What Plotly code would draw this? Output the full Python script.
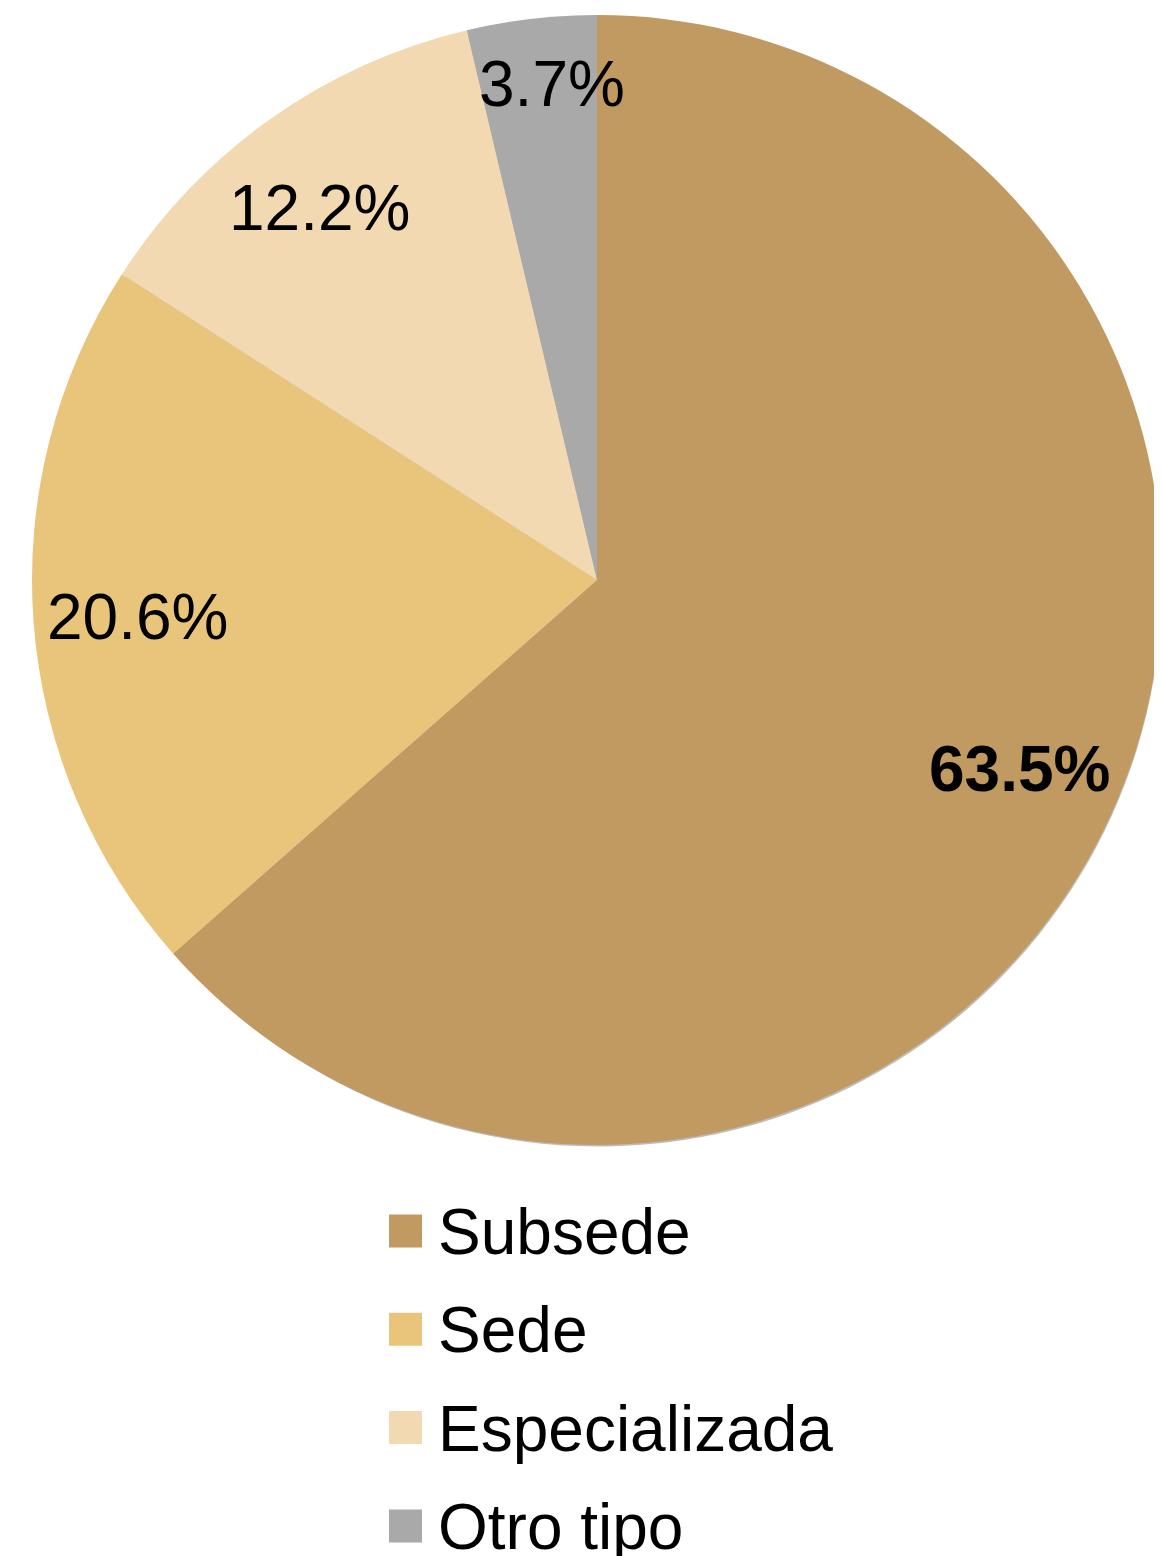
import math
import plotly.graph_objects as go

# ---- data ----
labels = ["Subsede", "Sede", "Especializada", "Otro tipo"]
values = [63.5, 20.6, 12.2, 3.7]
colors = ["#C19A61", "#E9C47B", "#F2D9B2", "#A9A9A9"]
label_bold = [True, False, False, False]

# ---- layout constants (px, in reference-image coordinates) ----
OFF = 8                     # page body margin offset
W, H = 1162 - OFF, 1556 - OFF
CX, CY, R = 597, 580, 565
label_radius = [0.82, 0.82, 0.82, 0.88]
label_nudge = [(0, -2), (2, 2), (-10, 6), (13, -2)]
FONT = "Liberation Sans, Arial, sans-serif"
FS = 64

def px_to_paper(x, y):
    return (x - OFF) / W, 1 - (y - OFF) / H

def pie_domain(cx, cy, r):
    x0, y1 = px_to_paper(cx - r, cy - r)
    x1, y0 = px_to_paper(cx + r, cy + r)
    return dict(x=[max(0, x0), min(1, x1)], y=[max(0, y0), min(1, y1)])

fig = go.Figure()
# soft shadow behind the pie
fig.add_trace(go.Pie(
    values=values,
    marker=dict(colors=["#B0B0B0"] * len(values), line=dict(width=0)),
    sort=False, direction="clockwise", rotation=0,
    textinfo="none", hoverinfo="skip", showlegend=False, opacity=0.85,
    domain=pie_domain(CX + 3, CY + 3, R),
))
fig.add_trace(go.Pie(
    labels=labels,
    values=values,
    marker=dict(colors=colors, line=dict(width=0)),
    sort=False,
    direction="clockwise",
    rotation=0,
    textinfo="none",
    hoverinfo="label+percent",
    showlegend=False,
    domain=pie_domain(CX, CY, R),
))

annotations = []
total = sum(values)
cum = 0.0
for i, v in enumerate(values):
    mid = (cum + v / 2) / total * 2 * math.pi
    cum += v
    px = CX + label_radius[i] * R * math.sin(mid) + label_nudge[i][0]
    py = CY - label_radius[i] * R * math.cos(mid) + label_nudge[i][1]
    ax, ay = px_to_paper(px, py)
    txt = f"{v / total * 100:.1f}%"
    if label_bold[i]:
        txt = f"<b>{txt}</b>"
    annotations.append(dict(
        x=ax, y=ay, xref="paper", yref="paper", text=txt, showarrow=False,
        xanchor="center", yanchor="middle",
        font=dict(family=FONT, size=FS, color="#000000"),
    ))

# manual legend (large square swatches)
shapes = []
LEG_X0, SQ = 389, 33
LEG_Y0, LEG_DY = 1231, 98.3
for i, (lab, col) in enumerate(zip(labels, colors)):
    yc = LEG_Y0 + i * LEG_DY
    x0, y0 = px_to_paper(LEG_X0, yc + SQ / 2)
    x1, y1 = px_to_paper(LEG_X0 + SQ, yc - SQ / 2)
    shapes.append(dict(type="rect", xref="paper", yref="paper",
                       x0=x0, y0=y0, x1=x1, y1=y1,
                       fillcolor=col, line=dict(width=0)))
    tx, ty = px_to_paper(436, yc + 1)
    annotations.append(dict(
        x=tx, y=ty, xref="paper", yref="paper", text=lab, showarrow=False,
        xanchor="left", yanchor="middle",
        font=dict(family=FONT, size=FS, color="#000000"),
    ))

fig.update_layout(
    width=W, height=H,
    margin=dict(l=0, r=0, t=0, b=0),
    paper_bgcolor="#FFFFFF",
    plot_bgcolor="#FFFFFF",
    annotations=annotations,
    shapes=shapes,
)

fig.write_html("out.html")
